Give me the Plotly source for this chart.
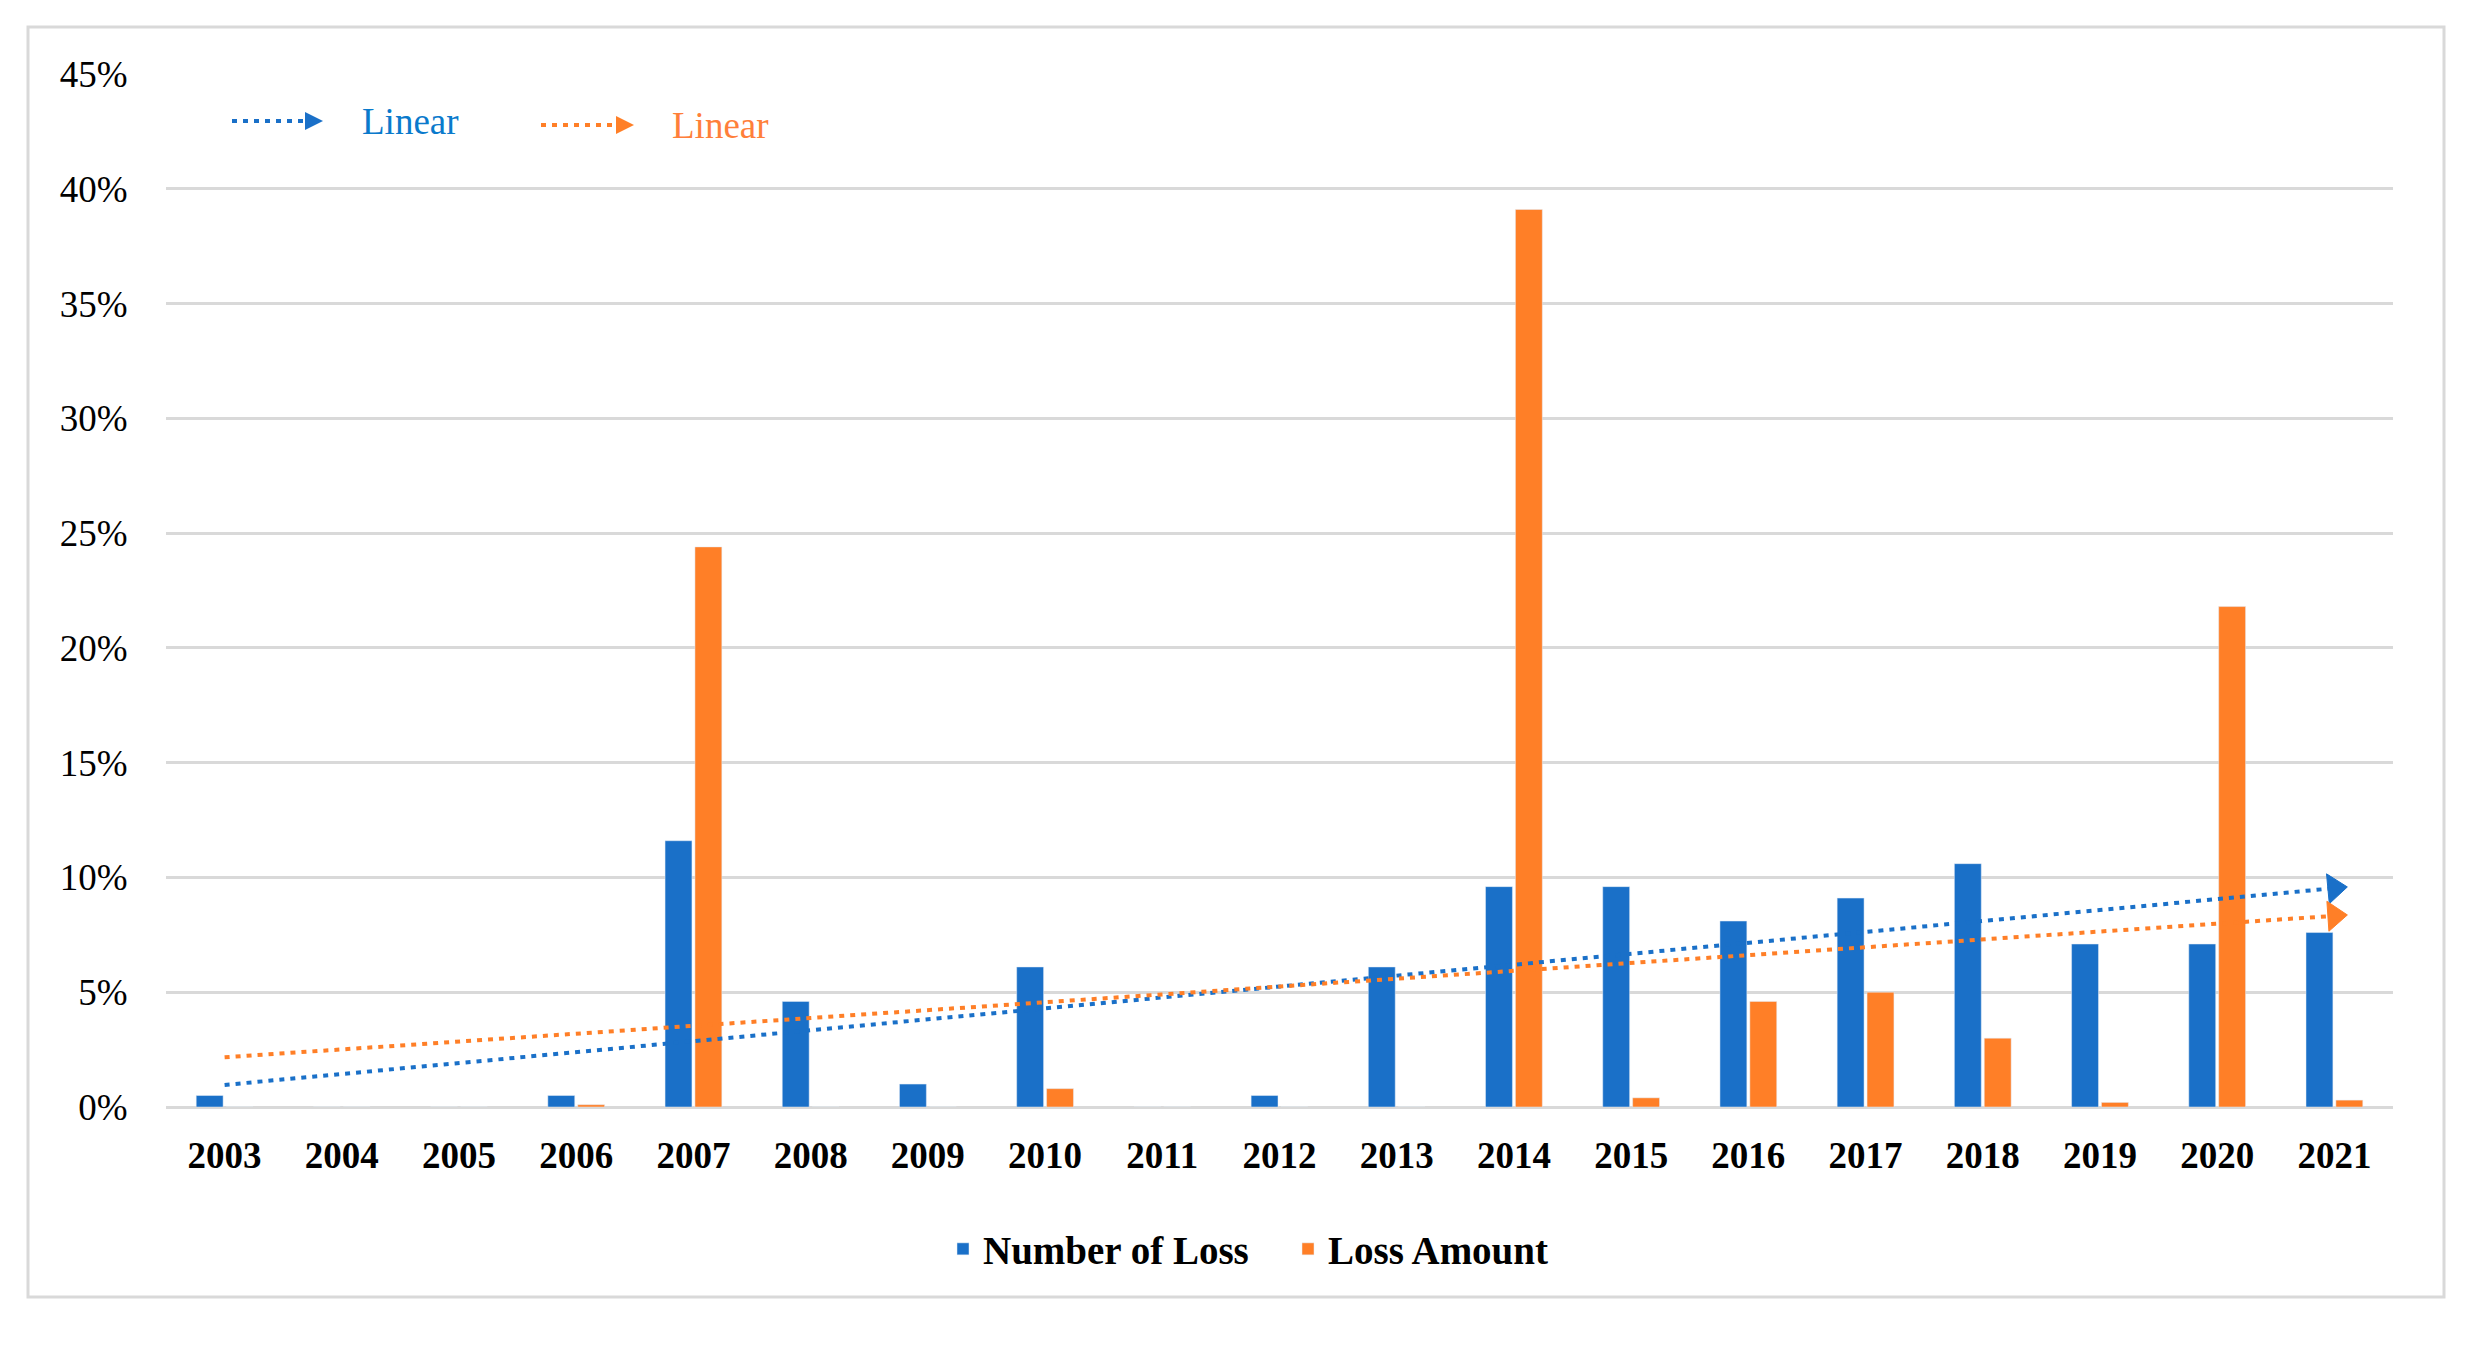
import numpy as np
import plotly.graph_objects as go

years = [str(y) for y in range(2003, 2022)]
number_of_loss = [0.5, 0, 0, 0.5, 11.6, 4.6, 1.0, 6.1, 0, 0.5, 6.1, 9.6, 9.6, 8.1, 9.1, 10.6, 7.1, 7.1, 7.6]
loss_amount = [0, 0, 0, 0.1, 24.4, 0, 0, 0.8, 0, 0, 0, 39.1, 0.4, 4.6, 5.0, 3.0, 0.2, 21.8, 0.3]

BLUE = "#1A70C8"
ORANGE = "#FF7F27"
BLUE_TXT = "#0A7ACC"
ORANGE_TXT = "#FF7F3A"
GRID = "#D9D9D9"
FONT = "Liberation Serif"

OFF = 8  # page body margin
W, H = 2472 - OFF, 1345 - OFF
# plot area in page pixels: x 166..2393, y 74..1107
L, T = 166 - OFF, 74 - OFF
R = W - (2393 - OFF)
B = H - (1107 - OFF)

def trend(vals):
    x = np.arange(1, len(vals) + 1)
    k, b = np.polyfit(x, np.array(vals, dtype=float), 1)
    return [k * x[0] + b, k * x[-1] + b]

fig = go.Figure()
fig.add_trace(go.Bar(x=years, y=number_of_loss, name="Number of Loss", marker_color=BLUE))
fig.add_trace(go.Bar(x=years, y=loss_amount, name="Loss Amount", marker_color=ORANGE))

for vals, col in [(number_of_loss, BLUE), (loss_amount, ORANGE)]:
    fig.add_trace(go.Scatter(
        x=[years[0], years[-1]], y=trend(vals), mode="lines+markers",
        line=dict(color=col, width=4, dash="5px,6px"),
        marker=dict(symbol="triangle-up", angleref="previous", size=[0, 26], color=col,
                    opacity=1, line=dict(width=1, color=col)),
        showlegend=False, hoverinfo="skip"))

def px2paper(px, py):
    # page pixel -> paper coords
    px -= OFF
    py -= OFF
    return (px - L) / (W - L - R), (H - B - py) / (H - T - B)

shapes = []
x0, y0 = px2paper(28, 1297)
x1, y1 = px2paper(2444, 27)
shapes.append(dict(type="rect", xref="paper", yref="paper", x0=x0, y0=y0, x1=x1, y1=y1,
                   line=dict(color=GRID, width=3), layer="below"))

annotations = []
for (sx, tip, yy, col, tcol, tx) in [(232, 323, 121, BLUE, BLUE_TXT, 360),
                                      (541, 634, 125, ORANGE, ORANGE_TXT, 670)]:
    a, b = px2paper(sx, yy)
    c, _ = px2paper(tip - 16, yy)
    shapes.append(dict(type="line", xref="paper", yref="paper", x0=a, y0=b, x1=c, y1=b,
                       line=dict(color=col, width=4, dash="5px,6px")))
    tx0, ty0 = px2paper(tip - 18, yy - 9)
    tx1, ty1 = px2paper(tip, yy)
    tx2, ty2 = px2paper(tip - 18, yy + 9)
    shapes.append(dict(type="path", xref="paper", yref="paper",
                       path=f"M {tx0} {ty0} L {tx1} {ty1} L {tx2} {ty2} Z",
                       fillcolor=col, line=dict(width=0)))
    ax_, ay_ = px2paper(tx, yy)
    annotations.append(dict(xref="paper", yref="paper", x=ax_, y=ay_, xanchor="left",
                            yanchor="middle", text="Linear", showarrow=False,
                            font=dict(family=FONT, size=37, color=tcol)))

lx, ly = px2paper(943, 1249)
fig.update_layout(
    width=W, height=H,
    margin=dict(l=L, r=R, t=T, b=B, autoexpand=False),
    paper_bgcolor="white", plot_bgcolor="white",
    barmode="group", bargap=0.49, bargroupgap=0.1,
    font=dict(family=FONT, size=37, color="black"),
    legend=dict(orientation="h", x=lx, xanchor="left", y=ly, yanchor="middle",
                font=dict(family=FONT, size=39, color="black", weight="bold"),
                itemwidth=30, entrywidth=300, entrywidthmode="pixels",
                bgcolor="rgba(0,0,0,0)"),
    shapes=shapes, annotations=annotations,
)
fig.update_xaxes(type="category", range=[-0.5, len(years) - 0.5], autorange=False,
                 showgrid=False, showline=False, zeroline=False,
                 ticks="outside", ticklen=16, tickcolor="rgba(0,0,0,0)",
                 tickfont=dict(family=FONT, size=37, color="black", weight="bold"))
fig.update_yaxes(range=[0, 45], dtick=5, ticksuffix="%", showgrid=True, gridcolor=GRID,
                 gridwidth=3, zeroline=True, zerolinecolor=GRID, zerolinewidth=3,
                 showline=False, ticks="outside", ticklen=30, tickcolor="rgba(0,0,0,0)",
                 tickfont=dict(family=FONT, size=37, color="black"))

fig.write_html("out.html")
